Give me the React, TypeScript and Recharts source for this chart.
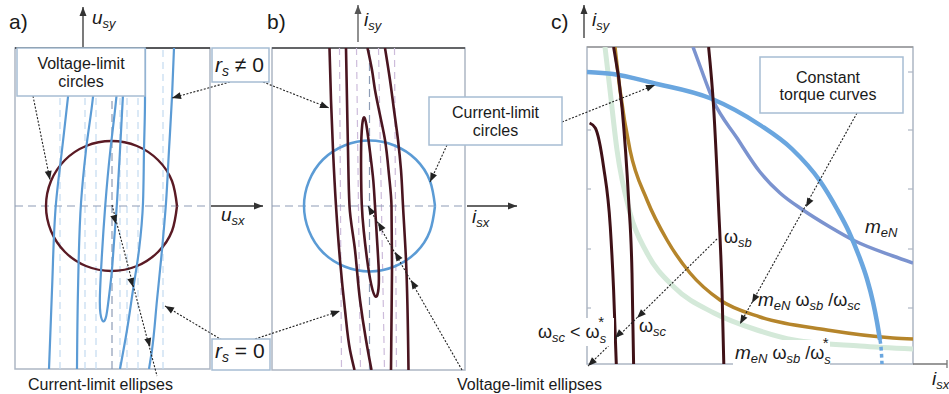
import React from 'react';
import { ComposedChart, Line, XAxis, YAxis, ReferenceLine, ReferenceArea } from 'recharts';

// ---------- Panel a) voltage plane (units: u_sx, u_sy, origin at axis crossing) ----------
const aCurrentEllipse1 = [[-39, 158], [-44, 109], [-50, 56], [-56, 3], [-60, -84], [-63, -163]];
const aCurrentEllipse2 = [[-15, 158], [-19, 109], [-26, 56], [-31, 3], [-34, -84], [-35, -163]];
const aCurrentEllipse3 = [[8, 158], [5, 109], [-2, 56], [-7, 0], [-10.5, -54], [-12.5, -94], [-12, -108], [-9, -118], [-5.5, -112], [-3.5, -94], [0, -67], [2, -34], [5, 0], [8, 56], [11, 109], [13, 158]];
const aCurrentEllipse4 = [[33, 158], [33, 106], [32, 56], [31, 3], [27, -44], [21, -84], [15, -124], [8, -163]];
const aCurrentEllipse5 = [[62, 158], [60, 109], [57, 56], [54, 3], [50, -44], [45, -94], [40, -144], [37, -163]];
const aIdealEllipseX = [-52, -27, -16, 8, 15, 26, 51];
const aVoltageCircle = [[65, 0], [60, 25], [46, 46], [25, 60], [-0.5, 65], [-26, 60], [-47, 46], [-61, 25], [-66, 0], [-61, -25], [-47, -46], [-26, -60], [-0.5, -65], [25, -60], [46, -46], [60, -25], [65, 0]];

// ---------- Panel b) current plane ----------
const bVoltageEllipse1 = [[-40, 158], [-38.5, 106], [-36.5, 56], [-33.5, 0], [-29.5, -54], [-24.5, -104], [-19.5, -144], [-15, -164]];
const bVoltageEllipse2 = [[-23.5, 158], [-22.5, 106], [-21.5, 56], [-20, 0], [-14.5, -44], [-9.5, -94], [-3.5, -134], [2, -164]];
const bVoltageEllipse3 = [[6.5, -95], [1.5, -80], [-2.5, -54], [-6, -24], [-8, 0], [-8.5, 36], [-8.5, 71], [-6, 94], [-3, 82], [-1, 66], [1.5, 46], [4, 26], [5.5, 0], [7.5, -34], [9.5, -64], [9.5, -84]];
const bVoltageEllipse4 = [[-2, 158], [2.5, 136], [5.5, 116], [10.5, 91], [15.5, 66], [19.5, 31], [22, 0], [22.5, -61], [22, -114], [21.5, -164]];
const bVoltageEllipse5 = [[15.5, 158], [20.5, 126], [24.5, 96], [28.5, 66], [31.5, 36], [33.5, 0], [36.5, -54], [39, -164]];
const bIdealEllipses = [
  [[-30, 158], [-28, -164]],
  [[-13, 158], [-9, -164]],
  [[9, 158], [15, -164]],
  [[25, 158], [27, -164]],
];
const bCurrentCircle = [[65.5, 0], [60.5, 25], [46.5, 46.5], [25, 60.5], [0, 65.5], [-25, 60.5], [-46.5, 46.5], [-60.5, 25], [-65.5, 0], [-60.5, -25], [-46.5, -46.5], [-25, -60.5], [0, -65.5], [25, -60.5], [46.5, -46.5], [60.5, -25], [65.5, 0]];

// ---------- Panel c) first quadrant of current plane ----------
const cCurrentCircle = [[0, 292], [26, 290], [66, 281], [124, 265.5], [173, 239], [205, 215], [233, 183], [250, 155], [262, 132], [272, 108], [280, 85], [286, 62], [290, 42], [293, 24]];
const cCurrentCircleTail = [[293, 24], [294.5, 10], [295, 0]];
const cTorqueRated = [[106, 317], [113, 298], [126, 264], [150, 226], [173, 192], [193, 171], [216, 154], [243, 137], [268, 123], [306, 108], [326, 101]];
const cTorqueSc = [[28, 317], [33, 274], [43, 214], [60, 164], [80, 124], [103, 91], [133, 64], [173, 47], [240, 34], [306, 26], [326, 25]];
const cTorqueStar = [[18, 317], [23, 274], [30, 214], [43, 151], [60, 111], [87, 77], [127, 51], [170, 34], [207, 24], [273, 18], [326, 15]];
const cEllipseStar = [[2.6, 241], [8.3, 236], [16.6, 197], [23.3, 137], [26.6, 74], [29.3, 0]];
const cEllipseSc = [[26.6, 317], [35, 257], [41.6, 164], [45, 91], [46.6, 0]];
const cEllipseSb = [[121.6, 317], [126.6, 257], [131.6, 157], [135, 74], [136.8, 0]];
const cTicks = [56, 115, 175, 234, 292];

const pts = (arr: number[][]) => arr.map(([x, y]) => ({ x, y }));

const FONT = '"Liberation Sans", Arial, Helvetica, sans-serif';
const BOX = '#adb6c4';
const AX = '#8d9cb6';

const M = 4;

function frame(xd: number[], yd: number[], topColor: string) {
  return [
    <ReferenceArea key="box" x1={xd[0]} x2={xd[1]} y1={yd[0]} y2={yd[1]} fill="none" fillOpacity={0} stroke={BOX} strokeWidth={1.5} />,
    <ReferenceLine key="top" y={yd[1]} stroke={topColor} strokeWidth={1.3} />,
  ];
}

function line(key: string, data: number[][], color: string, width: number, type: any = 'natural', dash?: string) {
  // monotoneY expects points ordered by increasing y
  const d = type === 'monotoneY' ? data.slice().reverse() : data;
  return (
    <Line
      key={key}
      data={pts(d)}
      dataKey="y"
      type={type}
      stroke={color}
      strokeWidth={width}
      strokeDasharray={dash}
      dot={false}
      activeDot={false}
      isAnimationActive={false}
      legendType="none"
    />
  );
}

function PanelA() {
  const xd = [-97, 98];
  const yd = [-163, 158];
  return (
    <div style={{ position: 'absolute', left: 15 - M, top: 48 - M }}>
      <ComposedChart width={195 + 2 * M} height={321 + 2 * M} margin={{ top: M, right: M, bottom: M, left: M }}>
        <XAxis type="number" dataKey="x" domain={xd} hide allowDataOverflow />
        <YAxis type="number" dataKey="y" domain={yd} hide allowDataOverflow />
        {frame(xd, yd, '#333')}
        {aIdealEllipseX.map((x, i) => (
          <ReferenceLine key={'d' + i} x={x} stroke="#c3dbf1" strokeWidth={1.2} strokeDasharray="7 5" />
        ))}
        <ReferenceLine x={0} stroke={AX} strokeWidth={1.2} strokeDasharray="8 5" />
        <ReferenceLine y={0} stroke={AX} strokeWidth={1.2} strokeDasharray="8 5" />
        {line('circle', aVoltageCircle, '#5a1a24', 2.4)}
        {line('e1', aCurrentEllipse1, '#5b9bd5', 2.2, 'monotoneY')}
        {line('e2', aCurrentEllipse2, '#5b9bd5', 2.2, 'monotoneY')}
        {line('e3', aCurrentEllipse3, '#5b9bd5', 2.2, 'basis')}
        {line('e4', aCurrentEllipse4, '#5b9bd5', 2.2, 'monotoneY')}
        {line('e5', aCurrentEllipse5, '#5b9bd5', 2.2, 'monotoneY')}
      </ComposedChart>
    </div>
  );
}

function PanelB() {
  const xd = [-97.5, 95.5];
  const yd = [-164, 158];
  return (
    <div style={{ position: 'absolute', left: 272 - M, top: 48 - M }}>
      <ComposedChart width={193 + 2 * M} height={322 + 2 * M} margin={{ top: M, right: M, bottom: M, left: M }}>
        <XAxis type="number" dataKey="x" domain={xd} hide allowDataOverflow />
        <YAxis type="number" dataKey="y" domain={yd} hide allowDataOverflow />
        {frame(xd, yd, '#444')}
        {bIdealEllipses.map((d, i) => line('d' + i, d, '#cdbcdb', 1.2, 'linear', '7 5'))}
        <ReferenceLine x={0} stroke={AX} strokeWidth={1.2} strokeDasharray="8 5" />
        <ReferenceLine y={0} stroke={AX} strokeWidth={1.2} strokeDasharray="8 5" />
        {line('circle', bCurrentCircle, '#5b9bd5', 2.5)}
        {line('v1', bVoltageEllipse1, '#4a1520', 2.6, 'monotoneY')}
        {line('v2', bVoltageEllipse2, '#4a1520', 2.6, 'monotoneY')}
        {line('v3', bVoltageEllipse3, '#4a1520', 2.6, 'basisClosed')}
        {line('v4', bVoltageEllipse4, '#4a1520', 2.6, 'monotoneY')}
        {line('v5', bVoltageEllipse5, '#4a1520', 2.6, 'monotoneY')}
      </ComposedChart>
    </div>
  );
}

function PanelC() {
  const xd = [0, 326];
  const yd = [0, 317];
  return (
    <div style={{ position: 'absolute', left: 587 - M, top: 47 - M }}>
      <ComposedChart width={326 + 2 * M} height={317 + 2 * M} margin={{ top: M, right: M, bottom: M, left: M }}>
        <XAxis type="number" dataKey="x" domain={xd} hide allowDataOverflow />
        <YAxis type="number" dataKey="y" domain={yd} hide allowDataOverflow />
        {frame(xd, yd, '#9a9a9a')}
        {cTicks.map((t) => (
          <ReferenceLine key={'l' + t} segment={[{ x: 0, y: t }, { x: 4, y: t }]} stroke={BOX} strokeWidth={1.2} />
        ))}
        {cTicks.map((t) => (
          <ReferenceLine key={'r' + t} segment={[{ x: 321, y: t }, { x: 326, y: t }]} stroke={BOX} strokeWidth={1.2} />
        ))}
        {line('star', cTorqueStar, '#d4e9d9', 5, 'monotone')}
        {line('sc', cTorqueSc, '#b5852b', 3.5, 'monotone')}
        {line('rated', cTorqueRated, '#7b93cf', 3.5, 'monotone')}
        {line('circle', cCurrentCircle, '#6aa6df', 4.5, 'monotone')}
        {line('circleTail', cCurrentCircleTail, '#6aa6df', 3.5, 'monotone', '4 3')}
        {line('m1', cEllipseStar, '#3f1117', 3, 'monotone')}
        {line('m2', cEllipseSc, '#3f1117', 3, 'monotone')}
        {line('m3', cEllipseSb, '#3f1117', 3, 'monotone')}
      </ComposedChart>
    </div>
  );
}

type Pt = [number, number];
function Arrow({ from, to, heads, dotted = true, color = '#222', w = 1.1 }: { from: Pt; to: Pt; heads: Pt[]; dotted?: boolean; color?: string; w?: number }) {
  const dx = to[0] - from[0];
  const dy = to[1] - from[1];
  const len = Math.hypot(dx, dy);
  const ux = dx / len;
  const uy = dy / len;
  const hl = 9;
  const hw = 3.5;
  return (
    <g>
      <line x1={from[0]} y1={from[1]} x2={to[0]} y2={to[1]} stroke={color} strokeWidth={w} strokeDasharray={dotted ? '2 1.6' : undefined} />
      {heads.map(([hx, hy], i) => (
        <polygon
          key={i}
          fill={color}
          points={`${hx},${hy} ${hx - ux * hl - uy * hw},${hy - uy * hl + ux * hw} ${hx - ux * hl + uy * hw},${hy - uy * hl - ux * hw}`}
        />
      ))}
    </g>
  );
}

function Sym({ x, y, base, sub, size = 19, subSize = 13, italicBase = true, anchor = 'start' }: any) {
  return (
    <text x={x} y={y} fontFamily={FONT} fontSize={size} fill="#1a1a1a" textAnchor={anchor}>
      <tspan fontStyle={italicBase ? 'italic' : 'normal'}>{base}</tspan>
      <tspan fontStyle="italic" fontSize={subSize} dy={4}>{sub}</tspan>
    </text>
  );
}

function Overlay() {
  const tc = '#1a1a1a';
  return (
    <svg width={949} height={394} style={{ position: 'absolute', left: 0, top: 0 }}>
      {/* panel letters */}
      <text x={9} y={29} fontFamily={FONT} fontSize={21} fill={tc}>a)</text>
      <text x={267} y={29} fontFamily={FONT} fontSize={21} fill={tc}>b)</text>
      <text x={551} y={29} fontFamily={FONT} fontSize={21} fill={tc}>c)</text>

      {/* axis arrows */}
      <Arrow from={[83, 47]} to={[83, 7]} heads={[[83, 7]]} dotted={false} color="#333" w={1.3} />
      <Sym x={92} y={24} base="u" sub="sy" />
      <Arrow from={[358, 42]} to={[358, 5]} heads={[[358, 5]]} dotted={false} color="#555" w={1.3} />
      <Sym x={364} y={26} base="i" sub="sy" />
      <Arrow from={[584, 38]} to={[584, 5]} heads={[[584, 5]]} dotted={false} color="#333" w={1.3} />
      <Sym x={592} y={26} base="i" sub="sy" />
      <Arrow from={[211, 206]} to={[263, 206]} heads={[[263, 206]]} dotted={false} color="#333" w={1.3} />
      <Sym x={221} y={221} base="u" sub="sx" />
      <Arrow from={[467, 206]} to={[517, 206]} heads={[[517, 206]]} dotted={false} color="#333" w={1.3} />
      <Sym x={472} y={223} base="i" sub="sx" />
      <line x1={913} y1={364} x2={947} y2={364} stroke="#777" strokeWidth={1.3} />
      <line x1={947} y1={360} x2={947} y2={368} stroke="#777" strokeWidth={1.3} />
      <Sym x={932} y={385} base="i" sub="sx" />

      {/* Voltage-limit circles */}
      <Arrow from={[33, 96]} to={[50, 180]} heads={[[50, 180]]} />
      <rect x={17} y={48} width={128} height={48} fill="#fff" stroke="#a7bdd3" strokeWidth={1.5} />
      <text x={81} y={69} textAnchor="middle" fontFamily={FONT} fontSize={16} fill={tc}>Voltage-limit</text>
      <text x={81} y={87} textAnchor="middle" fontFamily={FONT} fontSize={16} fill={tc}>circles</text>

      {/* r_s != 0 */}
      <Arrow from={[230, 82]} to={[172, 98]} heads={[[172, 98]]} />
      <Arrow from={[263, 82]} to={[329, 108]} heads={[[329, 108]]} />
      <rect x={212} y={48} width={57} height={34} fill="#fff" stroke="#a7bdd3" strokeWidth={1.5} />
      <text x={215} y={72} fontFamily={FONT} fontSize={21} fill={tc}>
        <tspan fontStyle="italic">r</tspan>
        <tspan fontStyle="italic" fontSize={14} dy={4}>s</tspan>
        <tspan dy={-4}> ≠ 0</tspan>
      </text>

      {/* r_s = 0 */}
      <Arrow from={[222, 340]} to={[165, 306]} heads={[[165, 306]]} />
      <Arrow from={[255, 339]} to={[340, 311]} heads={[[340, 311]]} />
      <rect x={212} y={339} width={58} height={31} fill="#fff" stroke="#a7bdd3" strokeWidth={1.5} />
      <text x={215} y={358} fontFamily={FONT} fontSize={21} fill={tc}>
        <tspan fontStyle="italic">r</tspan>
        <tspan fontStyle="italic" fontSize={14} dy={4}>s</tspan>
        <tspan dy={-4}> = 0</tspan>
      </text>

      {/* Current-limit circles */}
      <Arrow from={[447, 145]} to={[430, 182]} heads={[[430, 182]]} />
      <Arrow from={[562, 122]} to={[655, 85]} heads={[[655, 85]]} />
      <rect x={429} y={97} width={133} height={48} fill="#fff" stroke="#a7bdd3" strokeWidth={1.5} />
      <text x={495.5} y={118} textAnchor="middle" fontFamily={FONT} fontSize={16} fill={tc}>Current-limit</text>
      <text x={495.5} y={136} textAnchor="middle" fontFamily={FONT} fontSize={16} fill={tc}>circles</text>

      {/* Constant torque curves */}
      <Arrow from={[857, 113]} to={[740, 324]} heads={[[806, 207], [752, 303], [740, 324]]} />
      <rect x={760} y={57} width={143} height={56} fill="#fff" stroke="#a7bdd3" strokeWidth={1.5} />
      <text x={828} y={83} textAnchor="middle" fontFamily={FONT} fontSize={16} fill={tc}>Constant</text>
      <text x={828} y={100} textAnchor="middle" fontFamily={FONT} fontSize={16} fill={tc}>torque curves</text>

      {/* ellipses arrows */}
      <Arrow from={[112, 205]} to={[157, 376]} heads={[[116, 224], [133, 287], [150, 347]]} />
      <Arrow from={[462, 370]} to={[368, 206]} heads={[[368, 206], [378, 222], [395, 252], [411, 280]]} />
      <text x={28} y={390} fontFamily={FONT} fontSize={16} fill={tc}>Current-limit ellipses</text>
      <text x={457} y={390} fontFamily={FONT} fontSize={16} fill={tc}>Voltage-limit ellipses</text>

      {/* omega arrow and labels */}
      <Arrow from={[717, 239]} to={[588, 366]} heads={[[637, 318], [615, 338], [588, 366]]} />
      <Sym x={724} y={243} base="ω" sub="sb" size={18} italicBase={false} />
      <rect x={637} y={318} width={30} height={20} fill="#fff" />
      <Sym x={639} y={332} base="ω" sub="sc" size={18} italicBase={false} />
      <rect x={536} y={318} width={78} height={28} fill="#fff" />
      <text x={538} y={338} fontFamily={FONT} fontSize={18} fill={tc}>
        <tspan>ω</tspan>
        <tspan fontStyle="italic" fontSize={13} dy={4}>sc</tspan>
        <tspan dy={-4}> &lt; ω</tspan>
        <tspan fontStyle="italic" fontSize={13} dy={5}>s</tspan>
        <tspan fontSize={15} dx={-8} dy={-16}>*</tspan>
      </text>

      <text x={865} y={233} fontFamily={FONT} fontSize={19} fill={tc}>
        <tspan fontStyle="italic">m</tspan>
        <tspan fontStyle="italic" fontSize={13} dy={4}>eN</tspan>
      </text>
      <text x={758} y={306} fontFamily={FONT} fontSize={19} fill={tc}>
        <tspan fontStyle="italic">m</tspan>
        <tspan fontStyle="italic" fontSize={13} dy={4}>eN</tspan>
        <tspan dy={-4} fontSize={18}> ω</tspan>
        <tspan fontStyle="italic" fontSize={13} dy={4}>sb</tspan>
        <tspan dy={-4} fontSize={18}> /ω</tspan>
        <tspan fontStyle="italic" fontSize={13} dy={4}>sc</tspan>
      </text>
      <rect x={733} y={340} width={97} height={27} fill="#fff" />
      <text x={735} y={359} fontFamily={FONT} fontSize={19} fill={tc}>
        <tspan fontStyle="italic">m</tspan>
        <tspan fontStyle="italic" fontSize={13} dy={4}>eN</tspan>
        <tspan dy={-4} fontSize={18}> ω</tspan>
        <tspan fontStyle="italic" fontSize={13} dy={4}>sb</tspan>
        <tspan dy={-4} fontSize={18}> /ω</tspan>
        <tspan fontStyle="italic" fontSize={13} dy={5}>s</tspan>
        <tspan fontSize={15} dx={-8} dy={-16}>*</tspan>
      </text>
    </svg>
  );
}

export default function App() {
  return (
    <div style={{ position: 'absolute', left: 0, top: 0, width: 949, height: 394, background: '#fff', overflow: 'hidden' }}>
      <PanelA />
      <PanelB />
      <PanelC />
      <Overlay />
    </div>
  );
}
